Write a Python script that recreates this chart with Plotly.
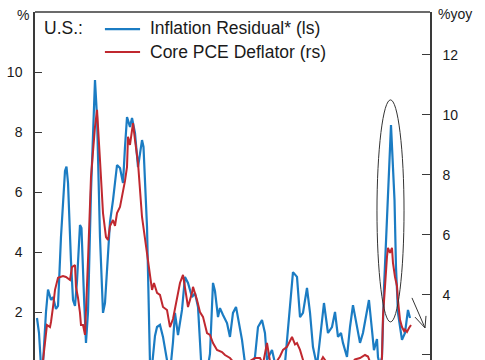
import plotly.graph_objects as go

# Inflation Residual* (left axis, %)
resid_year = [1965.32,1965.65,1965.97,1966.30,1966.78,1967.11,1967.59,1967.92,1968.40,1968.73,
              1969.21,1969.86,1970.10,1970.35,1970.83,1971.16,1971.48,1971.80,1972.29,1972.53,
              1972.94,1973.26,1973.59,1974.07,1974.72,1975.05,1975.53,1976.02,1976.34,1976.83,
              1977.15,1977.64,1978.29,1978.77,1979.26,1979.58,1979.91,1980.39,1980.72,1981.20,
              1981.69,1982.34,1982.58,1983.15,1983.63,1983.96,1984.44,1984.77,1985.25,1985.74,
              1986.22,1986.55,1987.03,1987.36,1987.68,1988.17,1988.82,1989.30,1989.79,1990.44,
              1990.92,1991.41,1991.90,1992.38,1993.03,1993.35,1993.84,1994.16,1994.65,1994.97,
              1995.46,1996.11,1996.59,1997.08,1997.57,1997.89,1998.54,1999.02,1999.67,2000.16,
              2000.64,2001.13,2001.78,2002.26,2002.59,2003.07,2003.40,2003.88,2004.69,2005.51,
              2005.99,2006.32,2006.80,2007.45,2007.94,2008.42,2009.07,2009.56,2010.04,2010.69,
              2011.18,2011.82,2012.47,2013.12,2013.61,2014.09,2014.58,2014.90,2015.55,2016.04,
              2016.52,2017.17,2017.66,2018.14,2018.79,2019.11,2019.60,2019.92,2020.41,2020.57,
              2020.90,2021.22,2021.55,2022.11,2022.68,2023.25,2023.49,2023.81,2024.46,2024.95,
              2025.43,2025.76]
resid_val = [1.80,1.30,0.20,0.30,2.00,2.75,2.40,2.50,2.10,2.20,
             4.50,6.70,6.85,6.30,3.70,2.40,2.20,3.00,4.90,4.80,
             2.50,0.97,2.00,6.00,9.73,8.50,4.50,1.97,2.30,3.73,
             5.00,5.73,6.90,6.80,6.30,7.50,8.50,8.17,8.47,7.97,
             6.83,7.73,7.50,4.83,0.30,0.20,1.20,1.50,1.57,1.17,
             0.50,0.20,0.30,1.00,1.97,1.23,2.07,3.17,2.97,2.50,
             2.63,2.17,0.40,0.10,0.20,0.60,2.97,2.70,1.83,2.13,
             1.90,1.63,1.17,1.97,2.17,1.83,1.07,0.30,0.10,0.20,
             0.50,1.50,1.73,1.30,0.40,0.60,0.73,0.30,0.00,0.30,
             1.50,2.40,3.33,3.17,1.83,1.97,2.80,1.97,0.83,0.20,
             1.07,2.30,1.30,1.50,2.00,1.17,1.30,0.97,0.50,1.50,
             2.23,1.50,0.97,1.30,2.07,2.40,1.40,0.73,1.10,0.50,
             0.20,0.50,2.80,5.73,8.23,5.73,3.50,1.97,1.07,1.30,
             2.07,1.80]

# Core PCE Deflator (right axis, %yoy)
pce_year = [1966.13,1966.62,1966.94,1967.43,1967.59,1967.92,1968.24,1968.73,1969.05,1969.54,
            1970.02,1970.67,1970.99,1971.48,1971.64,1971.97,1972.29,1972.45,1972.78,1973.10,
            1973.59,1974.07,1974.72,1975.05,1975.53,1976.02,1976.50,1976.83,1977.15,1977.64,
            1977.96,1978.29,1978.77,1979.26,1979.58,1979.91,1980.07,1980.39,1980.88,1981.20,
            1981.69,1982.34,1982.82,1983.31,1983.63,1983.96,1984.28,1984.77,1985.25,1985.74,
            1986.39,1986.87,1987.36,1988.01,1988.49,1988.98,1989.30,1989.79,1990.44,1990.60,
            1991.25,1991.73,1992.22,1992.87,1993.35,1993.84,1994.49,1995.30,1995.78,1996.59,
            1997.40,1998.21,1999.02,1999.83,2000.64,2001.45,2001.94,2002.59,2003.07,2003.88,
            2004.69,2005.18,2005.83,2006.32,2006.64,2007.13,2007.45,2007.94,2008.26,2008.91,
            2009.88,2010.85,2011.66,2012.15,2013.12,2014.42,2015.71,2016.85,2017.66,2018.47,
            2018.95,2019.60,2020.25,2020.90,2021.22,2021.38,2021.71,2022.03,2022.19,2022.52,
            2022.84,2023.00,2023.33,2023.65,2023.81,2024.14,2024.46,2024.79,2024.95,2025.27,
            2025.60,2025.92]
pce_val = [1.50,2.50,3.00,2.93,3.10,3.60,4.17,4.57,4.60,4.63,
           4.60,4.50,4.93,5.00,4.27,3.90,3.40,3.00,3.00,2.67,
           5.17,7.93,9.60,10.17,8.50,6.73,5.93,5.83,6.30,6.50,
           6.30,6.73,6.93,7.40,7.80,8.27,9.27,9.00,9.73,9.17,
           8.40,6.60,5.83,5.07,4.60,4.17,4.40,4.07,4.00,3.60,
           3.50,2.93,3.20,3.83,4.40,4.67,4.30,3.60,4.07,4.27,
           3.83,3.43,3.27,2.73,2.67,2.40,2.17,2.10,2.00,1.90,
           1.70,1.40,1.50,1.80,1.90,1.90,1.70,2.40,1.80,1.70,
           1.95,2.17,2.27,2.50,2.60,2.35,2.40,2.17,1.93,1.50,
           1.40,1.60,1.93,1.80,1.50,1.40,1.60,1.85,1.90,2.00,
           1.95,1.60,1.00,1.50,1.90,3.27,4.40,5.27,5.57,5.40,
           5.57,5.07,4.60,4.30,3.83,3.17,2.93,2.80,2.85,2.77,
           2.90,3.00]

left_ticks = [2, 4, 6, 8, 10]
right_ticks = [2, 4, 6, 8, 10, 12]

BLUE = "#1b7cc3"
RED = "#c0282f"
AX = "#3a3a3a"
FONT = "Liberation Sans, Arial, sans-serif"

fig = go.Figure()
fig.add_trace(go.Scatter(x=resid_year, y=resid_val, mode="lines",
                         line=dict(color=BLUE, width=2.2), yaxis="y", showlegend=False))
fig.add_trace(go.Scatter(x=pce_year, y=pce_val, mode="lines",
                         line=dict(color=RED, width=2.0), yaxis="y2", showlegend=False))

fig.update_layout(
    width=485, height=360,
    margin=dict(l=35, r=55, t=12, b=0, autoexpand=False),
    paper_bgcolor="white", plot_bgcolor="white",
    font=dict(family=FONT, size=14, color="#1a1a1a"),
    xaxis=dict(range=[1965, 2029], showgrid=False, zeroline=False,
               showticklabels=False, ticks="", showline=False, automargin=False),
    yaxis=dict(range=[0.4, 12.0], tickvals=left_ticks, ticks="inside", ticklen=7,
               tickcolor=AX, showline=True, linecolor=AX, linewidth=1.5,
               showgrid=False, zeroline=False, ticklabelstandoff=8, automargin=False,
               tickfont=dict(size=14)),
    yaxis2=dict(range=[1.833, 13.43], tickvals=right_ticks, ticks="inside", ticklen=8,
                tickcolor=AX, showline=True, linecolor=AX, linewidth=1.5,
                showgrid=False, zeroline=False, overlaying="y", side="right",
                ticklabelstandoff=8, automargin=False, tickfont=dict(size=14)),
)

# top frame line
fig.add_shape(type="line", xref="paper", yref="paper", x0=0, x1=1, y0=1, y1=1,
              line=dict(color=AX, width=1.5))

# axis unit labels
fig.add_annotation(text="%", xref="paper", yref="paper", x=-0.03, y=0.992,
                   showarrow=False, xanchor="center", yanchor="middle", font=dict(size=14))
fig.add_annotation(text="%yoy", xref="paper", yref="paper", x=1.063, y=0.994,
                   showarrow=False, xanchor="center", yanchor="middle", font=dict(size=14))

# in-plot legend
fig.add_annotation(text="U.S.:", xref="paper", yref="paper", x=0.0177, y=0.954,
                   showarrow=False, xanchor="left", yanchor="middle", font=dict(size=17.5))
fig.add_shape(type="line", xref="paper", yref="paper", x0=0.177, x1=0.266, y0=0.951, y1=0.951,
              line=dict(color=BLUE, width=2.2))
fig.add_shape(type="line", xref="paper", yref="paper", x0=0.177, x1=0.266, y0=0.885, y1=0.885,
              line=dict(color=RED, width=2.2))
fig.add_annotation(text="Inflation Residual* (ls)", xref="paper", yref="paper", x=0.286, y=0.954,
                   showarrow=False, xanchor="left", yanchor="middle", font=dict(size=17.5))
fig.add_annotation(text="Core PCE Deflator (rs)", xref="paper", yref="paper", x=0.286, y=0.885,
                   showarrow=False, xanchor="left", yanchor="middle", font=dict(size=17.5))

# ellipse around recent spike
fig.add_shape(type="circle", xref="x", yref="y", x0=2020.41, x1=2024.79, y0=1.67, y1=9.07,
              line=dict(color="#333333", width=1))
# arrow pointing down
fig.add_shape(type="path", xref="x", yref="y",
              path="M 2026.08,2.47 L 2028.19,1.47 M 2026.57,1.83 L 2028.19,1.47 L 2028.35,1.87",
              line=dict(color="#333333", width=1))

fig.write_html("out.html", config={"displayModeBar": False},
               post_script="document.body.style.margin='0';document.body.style.overflow='hidden';")
